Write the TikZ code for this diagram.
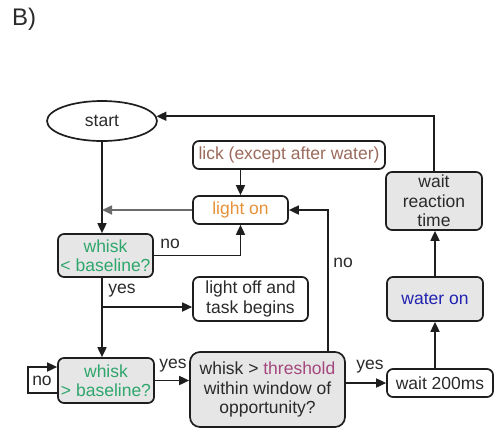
\documentclass[tikz,border=0pt]{standalone}
\usepackage{fontspec}
\setmainfont{Liberation Sans}
\usetikzlibrary{shapes.geometric,arrows.meta,calc}
\definecolor{boxfill}{HTML}{E6E6E6}
\definecolor{linecol}{HTML}{1E1E1E}
\definecolor{txtgreen}{HTML}{2EA66C}
\definecolor{txtorange}{HTML}{E8913A}
\definecolor{txtbrown}{HTML}{9B6A5C}
\definecolor{txtpurple}{HTML}{A4477E}
\definecolor{txtblue}{HTML}{2222B0}
\definecolor{txtdark}{HTML}{2A2A2A}
\tikzset{
  base/.style={draw=linecol, line width=1.7pt, rounded corners=6pt, inner sep=0pt,
    align=center, font=\fontsize{17.5}{19.5}\selectfont, text=txtdark},
  plainbox/.style={base, fill=white},
  greybox/.style={base, fill=boxfill},
  flow/.style={draw=linecol, line width=1.7pt, -{Triangle[length=10pt,width=9pt]}},
  softflow/.style={flow, draw=gray!85!black},
  lbl/.style={font=\fontsize{17.5}{19}\selectfont, text=txtdark, inner sep=0pt}
}
\begin{document}
\begin{tikzpicture}[x=1pt, y=-1pt]
\useasboundingbox (0,0) rectangle (500,432);

\node[lbl, font=\fontsize{24}{26}\selectfont, anchor=west] (panel) at (12,19) {B)};

% nodes
\node[ellipse, draw=linecol, line width=1.7pt, minimum width=110pt, minimum height=40pt,
  inner sep=0pt, font=\fontsize{17.5}{19}\selectfont, text=txtdark] (start) at (102,121) {start};
\node[plainbox, minimum width=192pt, minimum height=28pt] (lick) at (289,155)
  {\textcolor{txtbrown}{lick (except after water)}};
\node[plainbox, minimum width=95pt, minimum height=28pt] (lighton) at (240.5,210)
  {\textcolor{txtorange}{light on}};
\node[greybox, minimum width=95pt, minimum height=43pt] (wlow) at (105.5,255.5)
  {\textcolor{txtgreen}{whisk}\\\textcolor{txtgreen}{< baseline?}};
\node[plainbox, minimum width=115pt, minimum height=44pt] (lightoff) at (250.5,299)
  {light off and\\task begins};
\node[greybox, minimum width=96pt, minimum height=45pt] (whigh) at (106,380.5)
  {\textcolor{txtgreen}{whisk}\\\textcolor{txtgreen}{> baseline?}};
\node[greybox, minimum width=155pt, minimum height=75pt, rounded corners=10pt] (decide) at (267.5,389.5)
  {whisk > \textcolor{txtpurple}{threshold}\\within window of\\opportunity?};
\node[plainbox, minimum width=106pt, minimum height=28pt] (wait) at (440,383)
  {wait 200ms};
\node[greybox, minimum width=96pt, minimum height=44pt] (water) at (435,299)
  {\textcolor{txtblue}{water on}};
\node[greybox, minimum width=96pt, minimum height=58pt] (react) at (434,201)
  {wait\\reaction\\time};

% helper points
\coordinate (branch) at (102,307);
\coordinate (loopA) at (28,393);
\coordinate (loopB) at (28,367);
\coordinate (nocol) at (328,300);

% connectors
\draw[flow] (react.north) |- (start.5);
\draw[flow] (start.south) -- (start.south |- wlow.north);
\draw[flow] (lighton.north |- lick.south) -- (lighton.north);
\draw[softflow] (lighton.west) -- (lighton.west -| start.south);
\draw[flow] (wlow.east) -| (lighton.south);
\draw[flow] (start.south |- wlow.south) -- (start.south |- whigh.north);
\draw[flow] (branch) -- (branch -| lightoff.west);
\draw[flow] (whigh.west |- loopA) -- (loopA) -- (loopB) -- (whigh.west |- loopB);
\draw[flow] (whigh.east) -- (whigh.east -| decide.west);
\draw[flow] (nocol |- decide.north) |- (lighton.east);
\draw[flow] (decide.east |- wait.west) -- (wait.west);
\draw[flow] (water.south |- wait.north) -- (water.south);
\draw[flow] (water.north) -- (water.north |- react.south);

% branch labels
\node[lbl] (nolow) at (170,244) {no};
\node[lbl] (yeslow) at (122,291) {yes};
\node[lbl] (noloop) at (42,381) {no};
\node[lbl] (yeshigh) at (173,366) {yes};
\node[lbl] (nothr) at (343,263) {no};
\node[lbl] (yesthr) at (370,367) {yes};
\end{tikzpicture}
\end{document}
